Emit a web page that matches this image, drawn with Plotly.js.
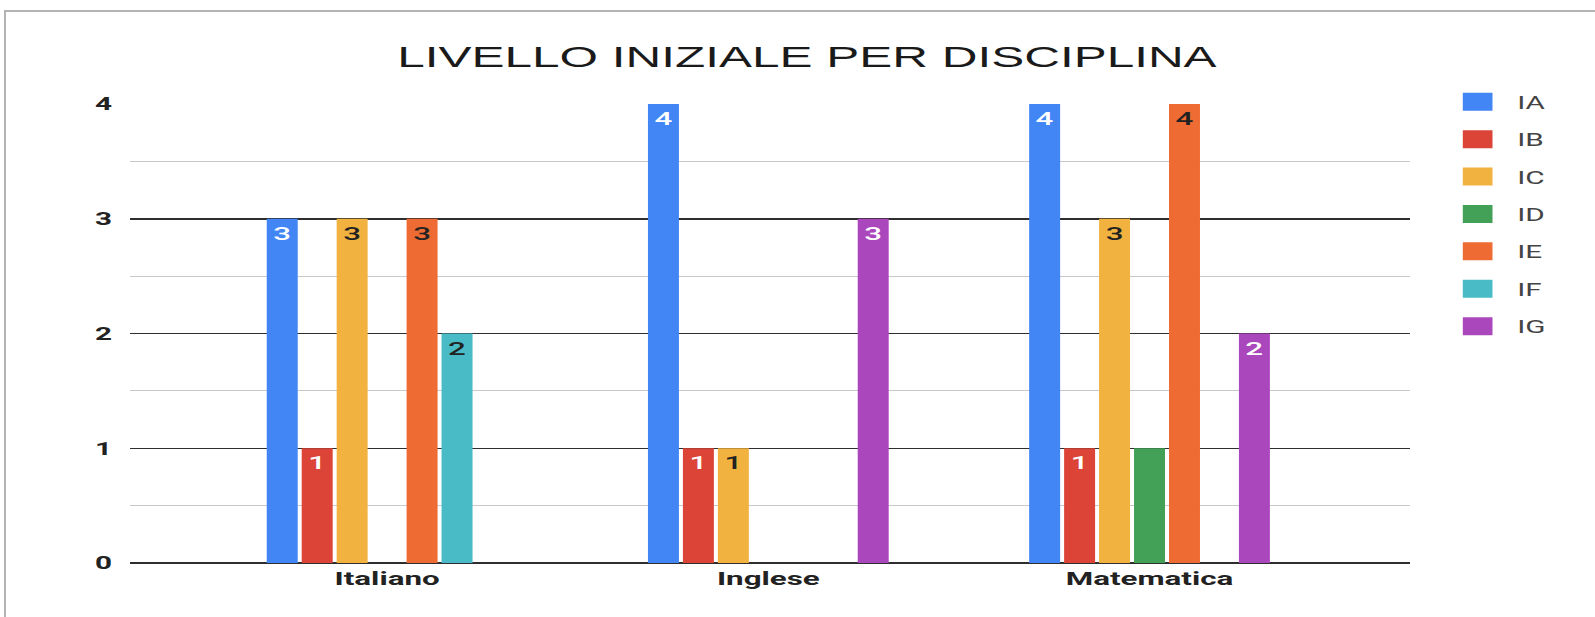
<!DOCTYPE html>
<html>
<head>
<meta charset="utf-8">
<script src="https://cdn.plot.ly/plotly-3.0.1.min.js"></script>
<style>
  html, body { margin:0; padding:0; background:#fff; overflow:hidden; }
  #wrap { position:relative; width:1595px; height:617px; overflow:hidden; }
  #chart { position:absolute; left:0; top:0; transform-origin:0 0; }
  #frame { position:absolute; left:4px; top:10px; width:1600px; height:620px;
           border-left:2px solid #b4b4b4; border-top:2px solid #b4b4b4; pointer-events:none; }
</style>
</head>
<body>
<div id="wrap">
  <div id="chart"></div>
  <div id="frame"></div>
</div>
<script>
// ---- data ----
const categories = ["Italiano", "Inglese", "Matematica"];
const seriesNames = ["IA", "IB", "IC", "ID", "IE", "IF", "IG"];
const IA = [3, 4, 4];
const IB = [1, 1, 1];
const IC = [3, 1, 3];
const ID = [null, null, 1];
const IE = [3, null, 4];
const IF = [2, null, null];
const IG = [null, 3, 2];
const yTicks = [0, 1, 2, 3, 4];
const titleText = "LIVELLO INIZIALE PER DISCIPLINA";

// ---- styles ----
const seriesValues = [IA, IB, IC, ID, IE, IF, IG];
const colors = ["#4285F4", "#DB4437", "#F2B23F", "#43A057", "#EE6C33", "#48BBC6", "#AB47BC"];
const labelColors = ["#ffffff", "#ffffff", "#222222", "#222222", "#222222", "#222222", "#ffffff"];
const showLabels = [true, true, true, false, true, true, true];

// the reference image is stretched horizontally; render narrower and stretch
const FULL_W = 1595, FULL_H = 617;
const W = 967;
const S = FULL_W / W;
const chartDiv = document.getElementById("chart");
chartDiv.style.width = W + "px";
chartDiv.style.height = FULL_H + "px";
chartDiv.style.transform = "scaleX(" + S + ")";

const traces = seriesNames.map((name, i) => ({
  type: "bar",
  name: name,
  x: categories,
  y: seriesValues[i],
  marker: { color: colors[i], line: { width: 0 } },
  text: seriesValues[i].map(v => (v === null || !showLabels[i]) ? "" : String(v)),
  textposition: "inside",
  insidetextanchor: "end",
  textangle: 0,
  constraintext: "none",
  insidetextfont: { family: "Roboto, Arial, sans-serif", size: 19, color: labelColors[i], weight: 500 },
  legendgroup: name,
  hoverinfo: "x+y+name"
}));

const mL = 130 / S, mR = 184 / S;
const plotW = W - mL - mR;
const legendLeft = 1518 / S - 40;

const layout = {
  width: W,
  height: FULL_H,
  margin: { l: mL, r: mR, t: 104.3, b: 54 },
  paper_bgcolor: "rgba(0,0,0,0)",
  plot_bgcolor: "rgba(0,0,0,0)",
  title: {
    text: titleText,
    font: { family: "Liberation Sans, Arial, sans-serif", size: 30, color: "#1a1a1a" },
    x: 807 / FULL_W, xanchor: "center", xref: "container",
    y: 1 - 57 / FULL_H, yanchor: "middle", yref: "container"
  },
  barmode: "group",
  bargap: 0.358,
  bargroupgap: 0.114,
  xaxis: {
    type: "category",
    range: [-0.6737, 2.684],
    showgrid: false,
    zeroline: false,
    showline: false,
    ticks: "",
    tickfont: { family: "Roboto, Arial, sans-serif", size: 19, color: "#222222", weight: "bold" },
    ticklabelstandoff: 2
  },
  yaxis: {
    range: [0, 4],
    tickvals: yTicks,
    ticktext: yTicks.map(String),
    showgrid: true,
    gridcolor: "#2e2e2e",
    gridwidth: 1.5,
    zeroline: true,
    zerolinecolor: "#2e2e2e",
    zerolinewidth: 1.5,
    showline: false,
    ticks: "",
    ticklabelstandoff: 10,
    tickfont: { family: "Roboto, Arial, sans-serif", size: 18, color: "#222222", weight: "bold" },
    minor: { dtick: 0.5, showgrid: true, gridcolor: "#c8c8c8", gridwidth: 1.2 }
  },
  showlegend: true,
  legend: {
    x: (legendLeft - mL) / plotW, xanchor: "left",
    y: 1.0445, yanchor: "top",
    font: { family: "Roboto, Arial, sans-serif", size: 18, color: "#444444" },
    tracegroupgap: 11,
    traceorder: "grouped",
    bgcolor: "rgba(0,0,0,0)"
  }
};

Plotly.newPlot("chart", traces, layout, { displayModeBar: false, staticPlot: true }).then(gd => {
  // enlarge legend swatches and pull them closer to their labels
  gd.querySelectorAll(".legend .legendpoints path").forEach(p => {
    p.setAttribute("transform", "translate(16,0) scale(1.5)");
    p.style.strokeWidth = "0";
  });
});
</script>
</body>
</html>
